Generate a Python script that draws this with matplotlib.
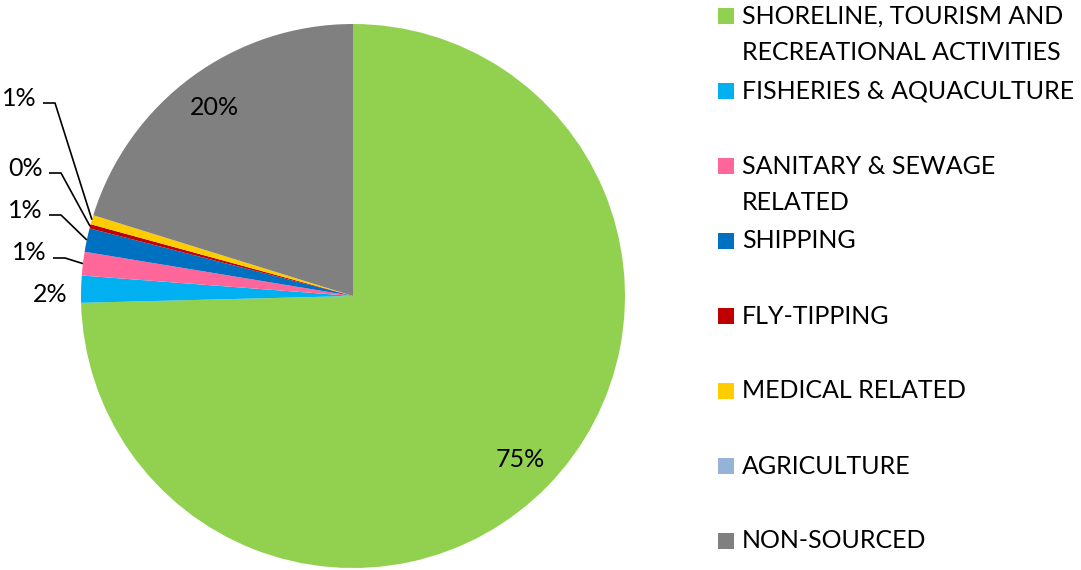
import matplotlib
matplotlib.use('Agg')
import matplotlib.pyplot as plt
import numpy as np

plt.rcParams['font.family'] = ['Lato', 'DejaVu Sans']

# data
labels = ['SHORELINE, TOURISM AND\nRECREATIONAL ACTIVITIES', 'FISHERIES & AQUACULTURE',
          'SANITARY & SEWAGE\nRELATED', 'SHIPPING', 'FLY-TIPPING', 'MEDICAL RELATED',
          'AGRICULTURE', 'NON-SOURCED']
values = [74.6, 1.6, 1.4, 1.4, 0.25, 0.55, 0.0, 20.2]
colors = ['#92D050', '#00B0F0', '#FF6699', '#0070C0', '#C00000', '#FFCC00', '#95B3D7', '#808080']

W, H = 1081, 570
fig = plt.figure(figsize=(W / 100, H / 100), dpi=100)
ax = fig.add_axes([0, 0, 1, 1])
ax.set_xlim(0, W)
ax.set_ylim(0, H)
ax.set_aspect('equal')
ax.axis('off')

cx, cy, R = 353, H - 296, 272
wedges, _ = ax.pie(values, colors=colors, startangle=90, counterclock=False,
                   center=(cx, cy), radius=R, frame=True,
                   wedgeprops=dict(linewidth=0))
ax.set_xlim(0, W)
ax.set_ylim(0, H)
ax.axis('off')

fs = 18
total = sum(values)
# big slices: labels inside
for i in [0, 7]:
    w = wedges[i]
    mid = np.deg2rad((w.theta1 + w.theta2) / 2)
    r = 0.86 * R
    ax.text(cx + r * np.cos(mid), cy + r * np.sin(mid), f'{round(values[i] / total * 100)}%',
            ha='center', va='center', fontsize=fs)

# small slices: labels outside, with leader lines where needed
# (index, text right x, text y, use leader)
small = [(1, 67, 295, False), (2, 47, 253, True), (3, 43, 210, True),
         (4, 43, 168, True), (5, 37, 98, True)]
for i, tx, ty, lead in small:
    w = wedges[i]
    mid = np.deg2rad((w.theta1 + w.theta2) / 2)
    ex, ey = cx + R * np.cos(mid), cy + R * np.sin(mid)
    ty = H - ty
    ax.text(tx, ty, f'{round(values[i] / total * 100)}%', ha='right', va='center', fontsize=fs)
    if lead:
        ax.plot([tx + 6, tx + 18, ex], [ty - 5, ty - 5, ey], color='black', lw=1.2,
                solid_capstyle='butt')

# legend
for k, (lab, col) in enumerate(zip(labels, colors)):
    top = 75 * k
    y0 = top + 16
    ax.add_patch(plt.Rectangle((718, H - y0 - 8), 16, 16, color=col, lw=0))
    for j, line in enumerate(lab.split('\n')):
        ax.text(742, H - (y0 + 36 * j), line, ha='left', va='center', fontsize=fs)

fig.savefig('out.png', dpi=100)
